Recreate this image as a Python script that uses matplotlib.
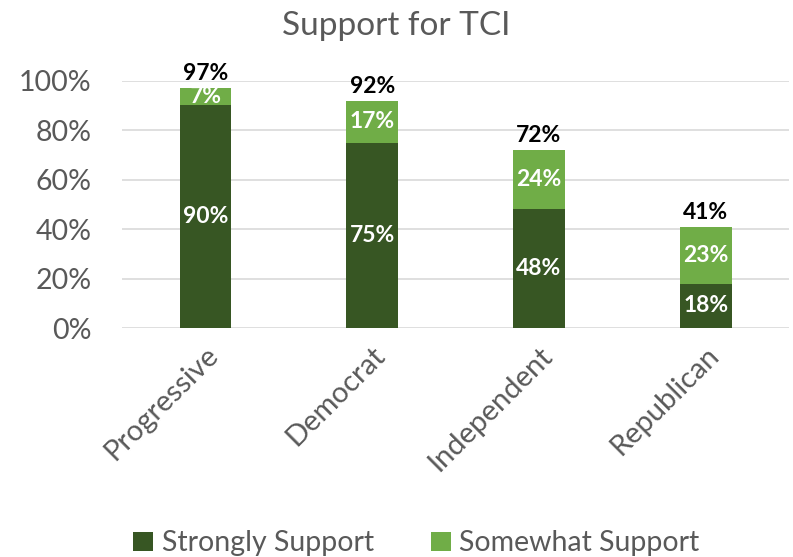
import numpy as np
import matplotlib.pyplot as plt
from matplotlib.ticker import PercentFormatter

categories = ["Progressive", "Democrat", "Independent", "Republican"]
strongly = [90, 75, 48, 18]
somewhat = [7, 17, 24, 23]
totals = [97, 92, 72, 41]

dark = "#375623"
light = "#70ad47"
gray = "#595959"

plt.rcParams["font.family"] = ["Lato", "DejaVu Sans"]

fig = plt.figure(figsize=(7.93, 5.57), dpi=100)
ax = fig.add_axes([0.154, 0.411, 0.841, 0.444])

x = np.arange(len(categories))
w = 0.31
ax.bar(x, strongly, w, color=dark, label="Strongly Support", zorder=3)
ax.bar(x, somewhat, w, bottom=strongly, color=light, label="Somewhat Support", zorder=3)

for i in range(len(categories)):
    ax.text(x[i], strongly[i] / 2, f"{strongly[i]}%", ha="center", va="center",
            color="white", fontsize=16.5, fontweight="bold", zorder=4)
    ax.text(x[i], strongly[i] + somewhat[i] / 2, f"{somewhat[i]}%", ha="center",
            va="center", color="white", fontsize=16.5, fontweight="bold", zorder=4)
    ax.text(x[i], totals[i] + 1.5, f"{totals[i]}%", ha="center", va="bottom",
            color="black", fontsize=16.5, fontweight="bold", zorder=4)

ax.set_xlim(-0.5, len(categories) - 0.5)
ax.set_ylim(0, 100)
ax.set_yticks(range(0, 101, 20))
ax.yaxis.set_major_formatter(PercentFormatter(decimals=0))
ax.set_xticks(x)
ax.set_xticklabels(categories, rotation=45, ha="right", rotation_mode="anchor")
ax.tick_params(axis="x", length=0, labelsize=21, labelcolor=gray, pad=10)
ax.tick_params(axis="y", length=0, labelsize=20.5, labelcolor=gray, pad=22)
ax.grid(axis="y", color="#d9d9d9", linewidth=1.2, zorder=0)
for s in ax.spines.values():
    s.set_visible(False)

fig.suptitle("Support for TCI", y=0.98, fontsize=24, color=gray)
fig.legend(loc="lower center", bbox_to_anchor=(0.525, -0.045), ncol=2, frameon=False,
           fontsize=20.5, labelcolor=gray, handlelength=0.7, handleheight=0.7,
           handletextpad=0.3, columnspacing=2.0)

fig.savefig("out.png", dpi=100)
